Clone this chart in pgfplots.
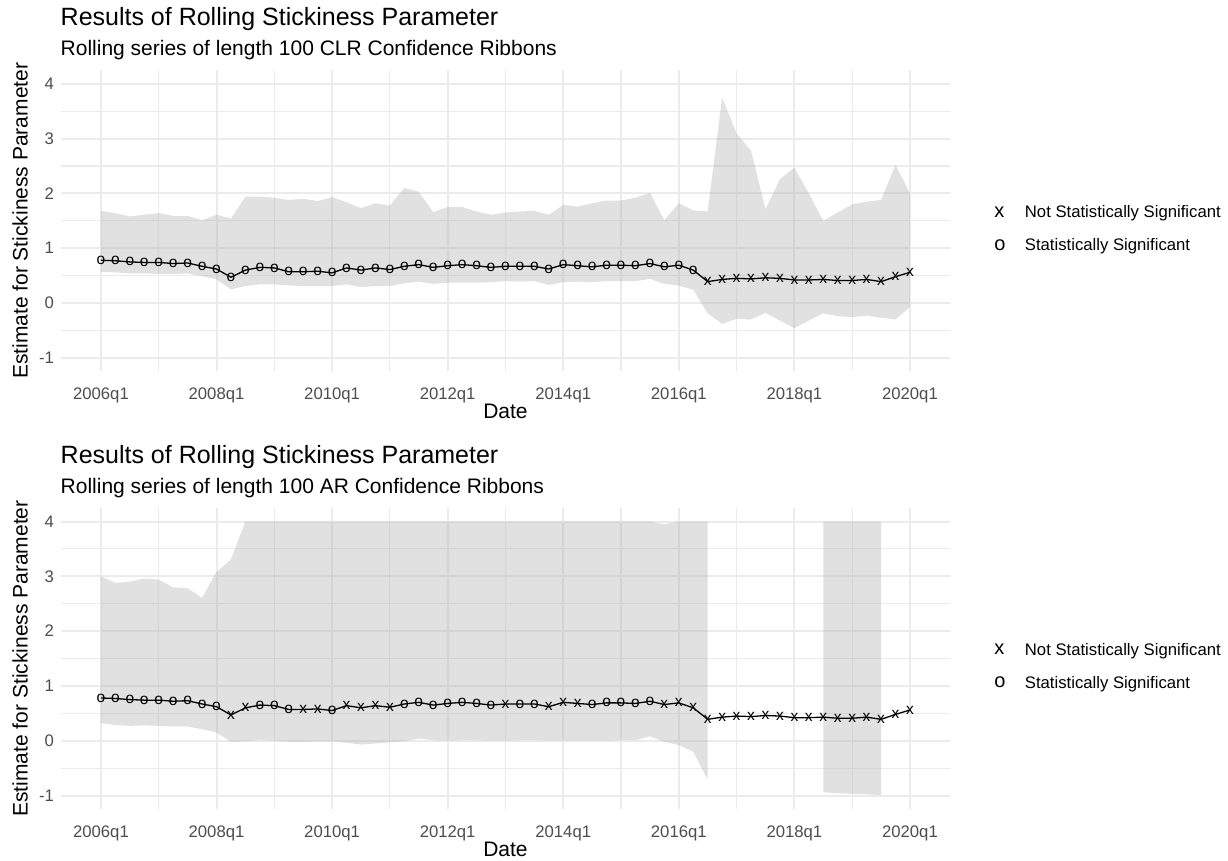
\documentclass[border=0pt]{standalone}
\usepackage{pgfplots}
\pgfplotsset{compat=1.18}
\usepackage{pgfplotstable}
\usepackage{fontspec}
\setmainfont{Liberation Sans}
\definecolor{gridc}{HTML}{EBEBEB}
\definecolor{tickc}{HTML}{4D4D4D}
\definecolor{ribc}{HTML}{B3B3B3}

% i = quarter index from 2006q1; est = estimate; sC / sA = significant (1) or not (0)
\pgfplotstableread{
i  est   sC  sA
0  0.78  1  1
1  0.77  1  1
2  0.75  1  1
3  0.74  1  1
4  0.74  1  1
5  0.72  1  1
6  0.73  1  1
7  0.67  1  1
8  0.62  1  1
9  0.47  1  0
10 0.60  1  0
11 0.65  1  1
12 0.64  1  1
13 0.57  1  1
14 0.57  1  0
15 0.58  1  0
16 0.55  1  1
17 0.64  1  0
18 0.60  1  0
19 0.64  1  0
20 0.61  1  0
21 0.67  1  1
22 0.70  1  1
23 0.65  1  1
24 0.68  1  1
25 0.70  1  1
26 0.68  1  1
27 0.65  1  1
28 0.67  1  0
29 0.67  1  1
30 0.67  1  1
31 0.62  1  0
32 0.70  1  0
33 0.68  1  0
34 0.66  1  1
35 0.69  1  1
36 0.69  1  1
37 0.68  1  1
38 0.72  1  1
39 0.66  1  0
40 0.69  1  0
41 0.60  1  0
42 0.39  0  0
43 0.43  0  0
44 0.45  0  0
45 0.44  0  0
46 0.46  0  0
47 0.45  0  0
48 0.42  0  0
49 0.42  0  0
50 0.43  0  0
51 0.41  0  0
52 0.41  0  0
53 0.43  0  0
54 0.39  0  0
55 0.48  0  0
56 0.56  0  0
}\datatab

% CLR ribbon outline: upper bound forward, lower bound backward
\pgfplotstableread{
x  y
0  1.68
1  1.64
2  1.58
3  1.61
4  1.64
5  1.59
6  1.59
7  1.51
8  1.61
9  1.54
10 1.94
11 1.94
12 1.92
13 1.88
14 1.90
15 1.86
16 1.93
17 1.84
18 1.73
19 1.82
20 1.78
21 2.10
22 2.03
23 1.66
24 1.75
25 1.75
26 1.67
27 1.61
28 1.65
29 1.67
30 1.68
31 1.61
32 1.79
33 1.76
34 1.82
35 1.87
36 1.87
37 1.92
38 2.01
39 1.51
40 1.82
41 1.69
42 1.67
43 3.75
44 3.09
45 2.78
46 1.71
47 2.26
48 2.47
49 2.00
50 1.50
51 1.65
52 1.80
53 1.85
54 1.88
55 2.52
56 2.00
56 -0.07
55 -0.30
54 -0.27
53 -0.23
52 -0.26
51 -0.24
50 -0.19
49 -0.32
48 -0.46
47 -0.32
46 -0.18
45 -0.30
44 -0.29
43 -0.38
42 -0.19
41 0.24
40 0.32
39 0.35
38 0.44
37 0.40
36 0.40
35 0.40
34 0.38
33 0.39
32 0.38
31 0.33
30 0.40
29 0.39
28 0.40
27 0.38
26 0.37
25 0.37
24 0.37
23 0.35
22 0.39
21 0.36
20 0.31
19 0.31
18 0.29
17 0.34
16 0.31
15 0.31
14 0.31
13 0.32
12 0.34
11 0.34
10 0.31
9  0.25
8  0.43
7  0.49
6  0.54
5  0.53
4  0.53
3  0.54
2  0.54
1  0.56
0  0.57
}\ribCLR

% AR ribbon, first block (upper capped at 4)
\pgfplotstableread{
x  y
0  3.00
1  2.88
2  2.90
3  2.96
4  2.94
5  2.80
6  2.78
7  2.61
8  3.08
9  3.31
10 4.00
38 4.00
39 3.95
40 4.00
42 4.00
42 -0.71
41 -0.20
40 -0.08
39 -0.02
38 0.08
37 0.01
36 0.01
35 0.00
34 0.00
33 0.00
32 0.00
31 0.00
30 0.01
29 0.01
28 0.00
27 0.00
26 0.01
25 0.01
24 0.00
23 0.01
22 0.04
21 -0.01
20 -0.03
19 -0.05
18 -0.07
17 -0.04
16 -0.01
15 -0.01
14 -0.02
13 -0.02
12 0.00
11 0.01
10 -0.01
9  -0.02
8  0.15
7  0.21
6  0.26
5  0.26
4  0.27
3  0.28
2  0.27
1  0.29
0  0.32
}\ribARa

% AR ribbon, second block
\pgfplotstableread{
x  y
50 4.00
54 4.00
54 -0.99
53 -0.98
52 -0.97
51 -0.96
50 -0.94
}\ribARb

\tikzset{
  markx/.style={mark=text, text mark={\fontsize{15.5}{15.5}\selectfont x}},
  marko/.style={mark=text, text mark={\fontsize{15.5}{15.5}\selectfont o}},
}
\pgfplotsset{
  sigscatter/.style={only marks, scatter, scatter src=explicit symbolic,
    scatter/classes={0={markx, black}, 1={marko, black}}},
  legsym/.style={legend image code/.code={%
    \path[draw=none, fill=none] (0pt,-2pt) rectangle (35pt,2pt);
    \node[draw=none, fill=none, text=black, inner sep=0pt,
      font=\fontsize{20}{20}\selectfont] at (4.5pt,-0.5pt) {#1};}},
  panel/.style={
    scale only axis, width=889.9pt, height=301.4pt,
    xmin=-2.8, xmax=58.8, ymin=-1.25, ymax=4.25,
    axis line style={draw=none},
    major tick length=0pt, minor tick length=0pt,
    grid=both,
    major grid style={gridc, line width=2pt},
    minor grid style={gridc, line width=1.1pt},
    xtick={0,8,...,56}, minor xtick={4,12,...,52},
    xticklabels={2006q1,2008q1,2010q1,2012q1,2014q1,2016q1,2018q1,2020q1},
    ytick={-1,0,1,2,3,4}, yticklabels={-1,0,1,2,3,4},
    minor ytick={-0.5,0.5,1.5,2.5,3.5},
    tick label style={font=\fontsize{16.7}{20}\selectfont, text=tickc},
    xticklabel style={yshift=-13pt},
    yticklabel style={xshift=-3pt},
    xlabel={Date}, ylabel={Estimate for Stickiness Parameter},
    label style={font=\fontsize{21}{25}\selectfont},
    xlabel style={at={(axis description cs:0.5,-0.133)}, anchor=center},
    ylabel style={at={(axis description cs:-0.0455,0.5)}, anchor=center},
    legend style={at={(axis description cs:1,0.474)}, anchor=west, xshift=39.5pt,
      draw=none, fill=none, font=\fontsize{16.7}{20}\selectfont,
      inner sep=0pt, outer sep=0pt, nodes={inner sep=0pt},
      row sep=19.2pt, column sep=0pt},
    legend cell align=left,
  },
}

\begin{document}
\begin{tikzpicture}
\useasboundingbox (0pt,0pt) rectangle (1228pt,860pt);

% ---------------- top panel: CLR ----------------
\begin{axis}[panel, at={(60.5pt,488.5pt)}, anchor=south west]
\addplot[fill=ribc, fill opacity=0.4, draw=none, forget plot] table[x=x, y=y] {\ribCLR} -- cycle;
\addplot[black, line width=1.3pt, forget plot] table[x=i, y=est] {\datatab};
\addplot[sigscatter, forget plot] table[x=i, y=est, meta=sC] {\datatab};
\addlegendimage{legsym=x}
\addlegendentry{Not Statistically Significant}
\addlegendimage{legsym=o}
\addlegendentry{Statistically Significant}
\end{axis}

% ---------------- bottom panel: AR ----------------
\begin{axis}[panel, at={(60.5pt,50.8pt)}, anchor=south west]
\addplot[fill=ribc, fill opacity=0.4, draw=none, forget plot] table[x=x, y=y] {\ribARa} -- cycle;
\addplot[fill=ribc, fill opacity=0.4, draw=none, forget plot] table[x=x, y=y] {\ribARb} -- cycle;
\addplot[black, line width=1.3pt, forget plot] table[x=i, y=est] {\datatab};
\addplot[sigscatter, forget plot] table[x=i, y=est, meta=sA] {\datatab};
\addlegendimage{legsym=x}
\addlegendentry{Not Statistically Significant}
\addlegendimage{legsym=o}
\addlegendentry{Statistically Significant}
\end{axis}

% titles
\node[anchor=base west, inner sep=0pt, font=\fontsize{25}{30}\selectfont] at (60.5pt,834pt) {Results of Rolling Stickiness Parameter};
\node[anchor=base west, inner sep=0pt, font=\fontsize{21}{25}\selectfont] at (60.5pt,804pt) {Rolling series of length 100 CLR Confidence Ribbons};
\node[anchor=base west, inner sep=0pt, font=\fontsize{25}{30}\selectfont] at (60.5pt,396.3pt) {Results of Rolling Stickiness Parameter};
\node[anchor=base west, inner sep=0pt, font=\fontsize{21}{25}\selectfont] at (60.5pt,366.3pt) {Rolling series of length 100 AR Confidence Ribbons};
\end{tikzpicture}
\end{document}
